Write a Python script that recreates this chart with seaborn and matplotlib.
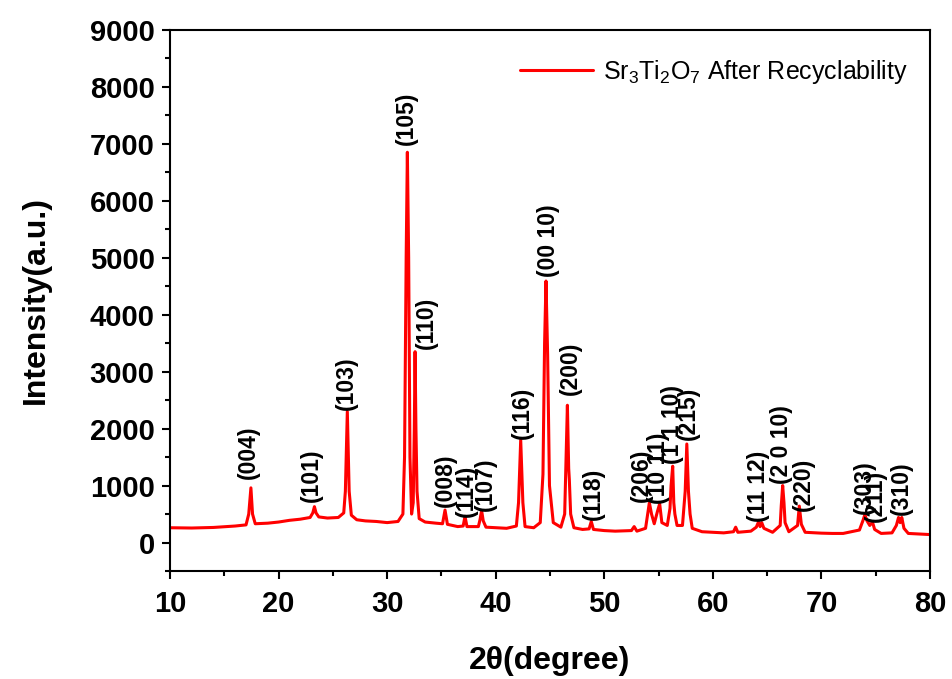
import numpy as np
import pandas as pd
import matplotlib
matplotlib.use("Agg")
import matplotlib.pyplot as plt
import seaborn as sns

# XRD pattern of Sr3Ti2O7 after recyclability
two_theta = [
    10.0, 12.0, 14.0, 16.0, 17.0, 17.25, 17.45, 17.6, 17.85, 19.0,
    20.0, 21.0, 22.0, 22.9, 23.15, 23.3, 23.45, 23.7, 24.5, 25.5,
    26.0, 26.15, 26.33, 26.5, 26.7, 27.2, 28.0, 29.0, 30.0, 31.0,
    31.45, 31.6, 31.75, 31.86, 31.98, 32.1, 32.25, 32.4, 32.5, 32.57,
    32.65, 32.75, 32.95, 33.5, 34.5, 35.1, 35.33, 35.55, 36.5, 37.0,
    37.17, 37.35, 38.4, 38.55, 38.7, 38.85, 39.1, 40.0, 41.0, 41.9,
    42.1, 42.3, 42.5, 42.7, 43.5, 44.1, 44.35, 44.5, 44.63, 44.78,
    44.95, 45.3, 46.0, 46.35, 46.48, 46.6, 46.72, 46.78, 46.9, 47.2,
    48.0, 48.6, 48.8, 49.0, 50.0, 51.0, 52.5, 52.75, 53.0, 53.8,
    54.0, 54.15, 54.35, 54.6, 54.9, 55.1, 55.3, 55.8, 56.05, 56.15,
    56.3, 56.4, 56.5, 56.7, 57.2, 57.45, 57.6, 57.75, 57.9, 58.1,
    59.0, 60.0, 61.0, 61.9, 62.1, 62.3, 63.5, 64.0, 64.2, 64.35,
    64.5, 64.7, 65.5, 66.2, 66.3, 66.43, 66.55, 66.65, 67.0, 67.8,
    67.96, 68.15, 68.5, 70.0, 71.0, 72.0, 73.5, 73.85, 74.0, 74.2,
    74.45, 74.7, 74.9, 75.5, 76.5, 76.9, 77.1, 77.25, 77.4, 77.6,
    78.0, 79.0, 80.0,
]
intensity = [
    260, 255, 265, 290, 310, 500, 960, 500, 330, 340,
    360, 390, 410, 440, 520, 630, 520, 450, 430, 440,
    520, 900, 2300, 900, 480, 400, 380, 370, 350, 370,
    500, 1500, 5000, 6850, 5000, 1500, 500, 700, 2000, 3350,
    2000, 900, 420, 360, 340, 330, 570, 320, 280, 290,
    460, 280, 280, 400, 560, 380, 270, 260, 250, 290,
    700, 1800, 700, 280, 260, 350, 1200, 3500, 4590, 3300,
    1000, 350, 270, 500, 1500, 2410, 1300, 1100, 500, 260,
    230, 240, 370, 230, 210, 200, 210, 280, 200, 250,
    500, 700, 500, 330, 550, 680, 350, 300, 600, 1000,
    1340, 700, 500, 300, 300, 900, 1730, 900, 500, 250,
    190, 180, 170, 190, 270, 180, 200, 270, 360, 280,
    350, 250, 180, 300, 650, 1000, 700, 350, 190, 300,
    640, 320, 180, 165, 160, 160, 220, 400, 490, 380,
    300, 360, 230, 160, 170, 300, 440, 350, 440, 250,
    160, 150, 140,
]

# Miller index labels: text, 2theta position, intensity at lower end of text
peak_labels = ["(004)", "(101)", "(103)", "(105)", "(110)", "(008)", "(114)",
               "(107)", "(116)", "(00 10)", "(200)", "(118)", "(206)",
               "(10 11)", "(1 1 10)", "(215)", "(11 12)", "(2 0 10)",
               "(220)", "(303)", "(211)", "(310)"]
label_x = [17.2, 23.05, 26.27, 31.8, 33.64, 35.39, 37.33, 39.0, 42.48, 44.85,
           46.84, 48.99, 53.45, 54.98, 56.27, 57.74, 64.19, 66.34, 68.33,
           73.95, 74.94, 77.4]
label_y = [1120, 709, 2332, 6977, 3404, 621, 445, 562, 1822, 4652,
           2583, 387, 709, 680, 1383, 1793, 357, 1031, 562,
           504, 357, 475]

df = pd.DataFrame({"two_theta": two_theta, "intensity": intensity})

sns.set_style("ticks", {"axes.edgecolor": "black", "text.color": "black",
                        "xtick.color": "black", "ytick.color": "black",
                        "axes.labelcolor": "black"})
plt.rcParams["font.family"] = ["Liberation Sans", "DejaVu Sans"]
plt.rcParams["mathtext.fontset"] = "custom"
plt.rcParams["mathtext.rm"] = "Liberation Sans"
plt.rcParams["mathtext.it"] = "Liberation Sans:italic"
plt.rcParams["mathtext.bf"] = "Liberation Sans:bold"

fig = plt.figure(figsize=(9.52, 6.79), dpi=100)
ax = fig.add_axes([0.1786, 0.159, 0.7983, 0.7972])

sns.lineplot(data=df, x="two_theta", y="intensity", ax=ax, color="#ff0000",
             linewidth=2.2, label=r"Sr$_3$Ti$_2$O$_7$ After Recyclability",
             estimator=None, sort=False)

for txt, xx, yy in zip(peak_labels, label_x, label_y):
    ax.text(xx, yy, txt, rotation=90, ha="center", va="bottom",
            fontsize=16.5, fontweight="bold", color="black")

ax.set_xlim(10, 80)
ax.set_ylim(-500, 9000)
ax.set_xticks(np.arange(10, 81, 10))
ax.set_yticks(np.arange(0, 9001, 1000))
ax.set_xticks(np.arange(15, 80, 10), minor=True)
ax.set_yticks(np.arange(-500, 9000, 1000), minor=True)

ax.tick_params(axis="both", which="major", direction="out", length=6,
               width=1.5, labelsize=21, colors="black")
ax.tick_params(axis="x", which="major", pad=8)
ax.tick_params(axis="y", which="major", pad=5)
ax.tick_params(axis="both", which="minor", direction="out", length=3.5,
               width=1.5, colors="black")
for lab in ax.get_xticklabels() + ax.get_yticklabels():
    lab.set_fontweight("bold")
for sp in ax.spines.values():
    sp.set_visible(True)
    sp.set_linewidth(1.5)
    sp.set_color("black")

ax.set_xlabel("2θ(degree)", fontsize=23, fontweight="bold", labelpad=20)
ax.set_ylabel("Intensity(a.u.)", fontsize=23, fontweight="bold", labelpad=28)

leg = ax.legend(loc="upper right", bbox_to_anchor=(1.0, 0.99), frameon=False,
                fontsize=18, handlelength=2.9, handletextpad=0.4)

fig.savefig("out.png", dpi=100)
